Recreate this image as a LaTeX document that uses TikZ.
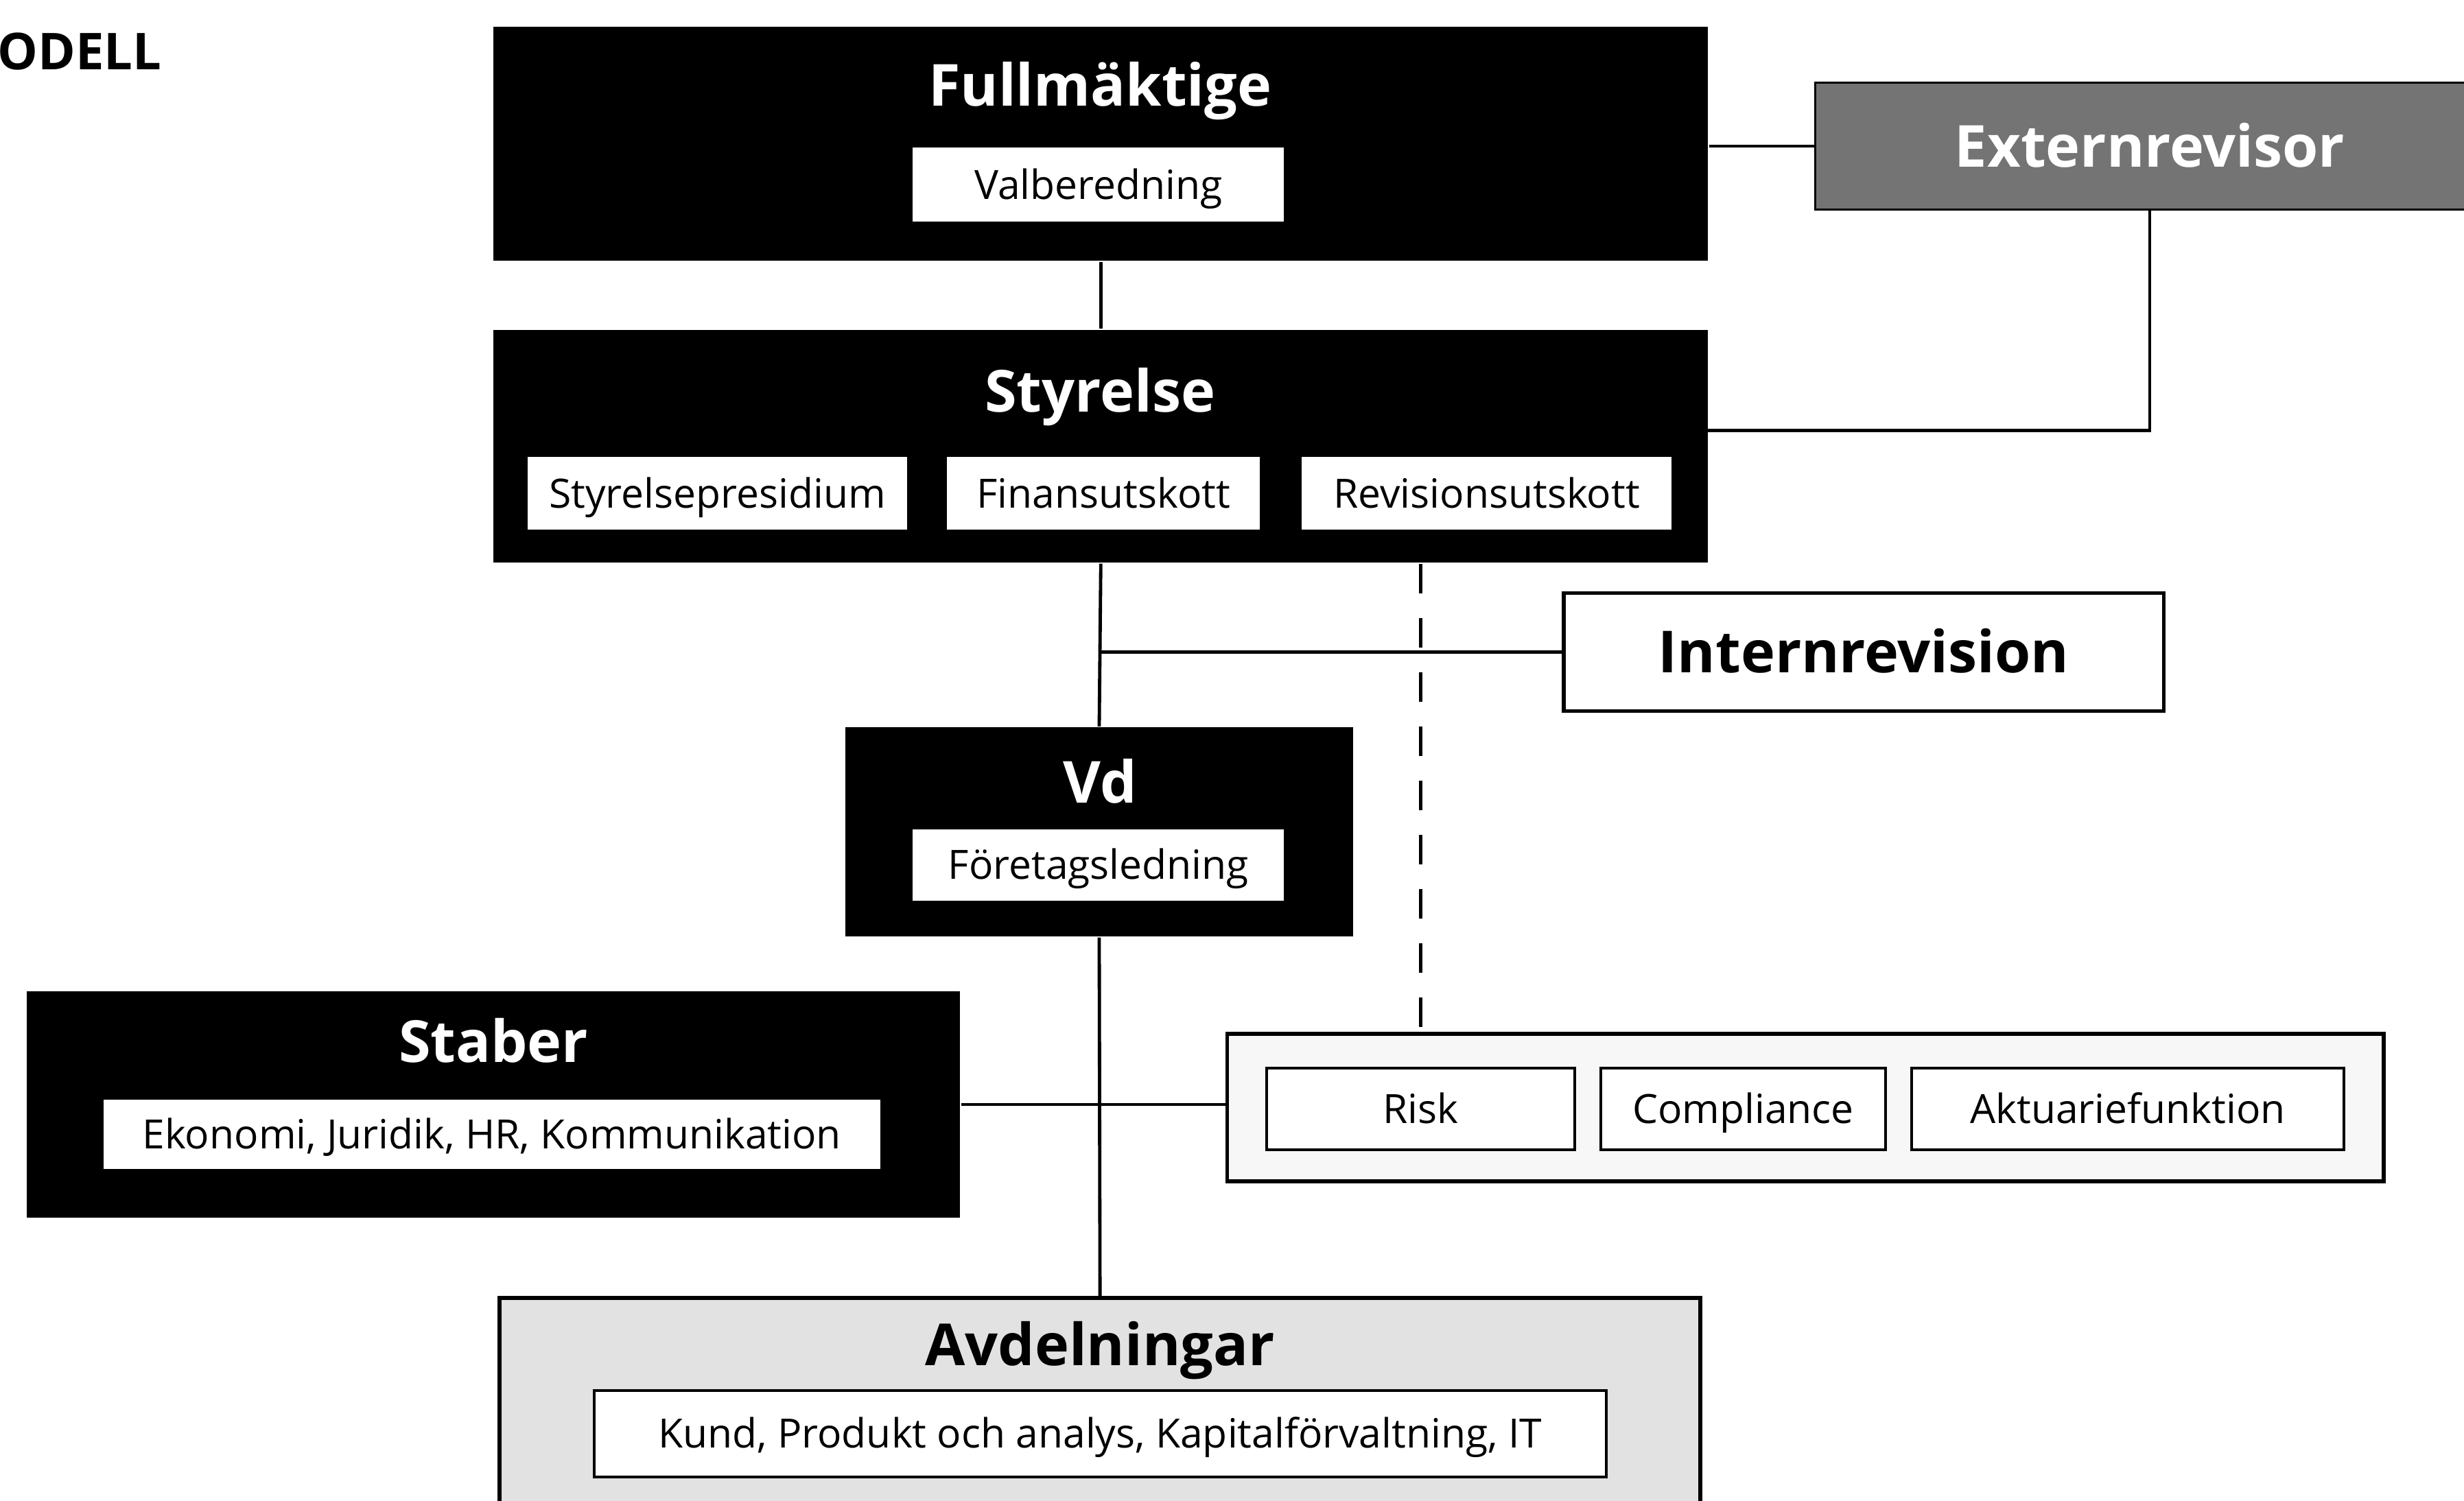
\documentclass[tikz,border=0pt]{standalone}
\usepackage{fontspec}
\setmainfont{Open Sans}
\usetikzlibrary{positioning}
\definecolor{ExtGray} {HTML}{747474}
\definecolor{AvdGray} {HTML}{E2E2E2}
\definecolor{CtrlGray}{HTML}{F7F7F7}

\begin{document}
\begin{tikzpicture}[
  x=1mm, y=-1mm,
  organ/.style = {draw=none, fill=black, inner sep=0pt},
  unit/.style  = {draw=black, fill=white, inner sep=0pt, line width=0.5pt,
                  minimum height=4.8mm, text height=7pt, text depth=1.8pt,
                  font=\fontsize{7.3}{8}\selectfont},
  head/.style  = {text=white, inner sep=0pt, text height=9.3pt, text depth=1.8pt,
                  font=\fontsize{10.5}{12}\selectfont\bfseries},
  frame/.style = {draw=black, line width=0.7pt, inner sep=0pt},
  link/.style  = {draw=black, line width=0.6pt},
  audit/.style = {link, dash pattern=on 1.9mm off 1.55mm},
]
\path[use as bounding box, fill=white] (0,0) rectangle (156.8,95.5);
\node[anchor=east, inner sep=0pt, text height=8.4pt, text depth=1.8pt,
      font=\fontsize{9.2}{11}\selectfont\bfseries] (model) at (10.35,3.25) {ODELL};

% Fullmäktige and Externrevisor
\node[organ, minimum width=77.3mm, minimum height=14.9mm] (full) at (70.05,9.15) {};
\node[head] (fullt) at (70,5.42) {Fullmäktige};
\node[unit, minimum width=23.8mm, minimum height=4.9mm] (valb) at (69.9,11.75) {Valberedning};
\node[organ, draw=black, fill=ExtGray, head, minimum width=42.6mm, minimum height=8.1mm] (ext) at (136.8,9.3) {Externrevisor};

% Styrelse
\node[organ, minimum width=77.3mm, minimum height=14.8mm] (sty) at (70.05,28.4) {};
\node[head] (styt) at (70,24.9) {Styrelse};
\node[unit, minimum width=24.3mm] (sp) at (45.65,31.4) {Styrelsepresidium};
\node[unit, minimum width=20.1mm, right=2.2mm of sp] (fin) {Finansutskott};
\node[unit, minimum width=23.7mm, right=2.3mm of fin] (rev) {Revisionsutskott};
\coordinate (styx) at (108.7,27.4);

% Internrevision
\node[frame, fill=white, minimum width=38.2mm, minimum height=7.5mm,
      text height=9.3pt, text depth=1.8pt,
      font=\fontsize{10.5}{12}\selectfont\bfseries] (intr) at (118.6,41.5) {Internrevision};

% Vd
\node[organ, minimum width=32.3mm, minimum height=13.3mm] (vd) at (69.95,52.95) {};
\node[head] (vdt) at (70,49.8) {Vd};
\node[unit, minimum width=23.8mm, minimum height=4.7mm] (fl) at (69.9,55.05) {Företagsledning};

% Staber
\node[organ, minimum width=59.4mm, minimum height=14.4mm] (stab) at (31.4,70.3) {};
\node[head] (stabt) at (31.4,66.3) {Staber};
\node[unit, minimum width=49.6mm, minimum height=4.6mm] (ek) at (31.3,72.2) {Ekonomi, Juridik, HR, Kommunikation};

% kontrollfunktioner
\node[frame, fill=CtrlGray, minimum width=73.6mm, minimum height=9.4mm] (ctrl) at (114.9,70.5) {};
\node[unit, minimum width=19.6mm, minimum height=5.2mm] (risk) at (90.4,70.6) {Risk};
\node[unit, minimum width=18.1mm, minimum height=5.2mm, right=1.5mm of risk] (comp) {Compliance};
\node[unit, minimum width=27.5mm, minimum height=5.2mm, right=1.5mm of comp] (akt) {Aktuariefunktion};

% Avdelningar
\node[frame, fill=AvdGray, minimum width=76.4mm, minimum height=14.9mm] (avd) at (70,90.05) {};
\node[inner sep=0pt, text height=9.3pt, text depth=1.8pt,
      font=\fontsize{10.5}{12}\selectfont\bfseries] (avdt) at (70,85.6) {Avdelningar};
\node[unit, minimum width=64.4mm, minimum height=5.5mm] (kund) at (70,91.25) {Kund, Produkt och analys, Kapitalförvaltning, IT};

% connectors
\foreach \a/\b in {full/sty, sty/vd, vd/avd}
  \draw[link] (\a.south) -- (\b.north);
\draw[link] (ext.west) -- (ext.west -| full.east);
\draw[link] (ext.south) |- (styx);
\draw[link] (intr.west) -- (intr.west -| sty.south);
\draw[link] (stab.east) -- (stab.east -| ctrl.west);
\draw[audit] (sty.south -| risk.north) -- (ctrl.north -| risk.north);
\end{tikzpicture}
\end{document}
